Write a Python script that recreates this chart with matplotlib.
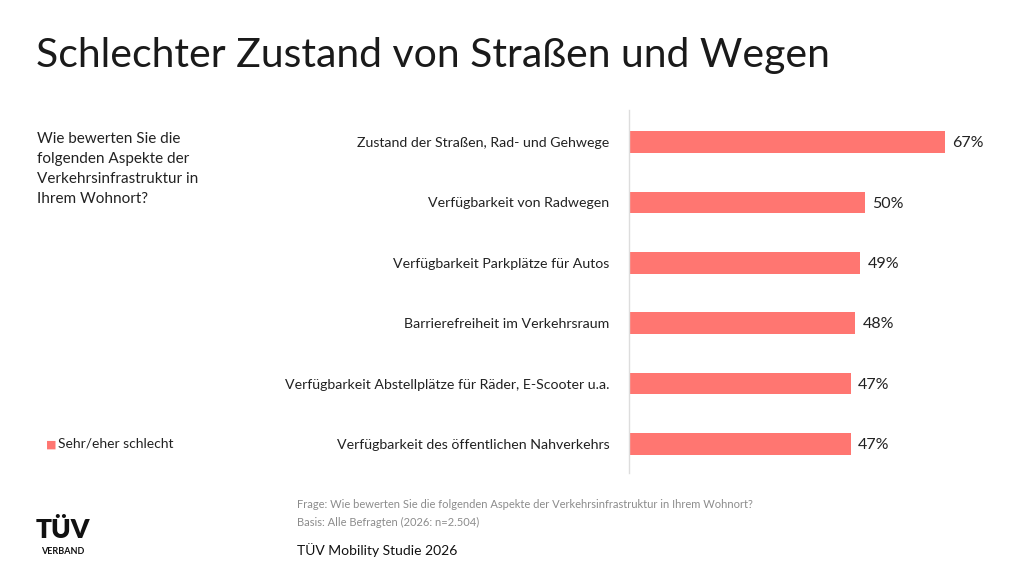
import matplotlib.pyplot as plt

# Daten
kategorien = [
    "Zustand der Straßen, Rad- und Gehwege",
    "Verfügbarkeit von Radwegen",
    "Verfügbarkeit Parkplätze für Autos",
    "Barrierefreiheit im Verkehrsraum",
    "Verfügbarkeit Abstellplätze für Räder, E-Scooter u.a.",
    "Verfügbarkeit des öffentlichen Nahverkehrs",
]
werte = [67, 50, 49, 48, 47, 47]
serie = "Sehr/eher schlecht"
farbe = "#FF7671"

plt.rcParams['font.family'] = ['Lato', 'DejaVu Sans']

fig = plt.figure(figsize=(10.24, 5.85), dpi=100)
W, H = 1024, 585

# Achse: x ab 629 px, y von 110 bis 473 px
ax = fig.add_axes([629 / W, 1 - 473 / H, (1010 - 629) / W, 363 / H])
pos = list(range(len(kategorien)))
ax.barh(pos, werte, height=0.36, color=farbe)
ax.set_xlim(0, (1010 - 629) / 4.716)
ax.set_ylim(5.48, -0.53)
for p, v in zip(pos, werte):
    ax.text(v + 1.6, p + 0.02, f"{v}%", va='center', ha='left', fontsize=11.5, color='#222222')
ax.set_yticks(pos)
ax.set_yticklabels(kategorien, fontsize=10.2, color='#222222')
ax.tick_params(axis='y', length=0, pad=14)
ax.set_xticks([])
for s in ['top', 'right', 'bottom']:
    ax.spines[s].set_visible(False)
ax.spines['left'].set_color('#DDDDDD')
ax.spines['left'].set_linewidth(1)

# Titel
fig.text(36 / W, 1 - 56 / H, "Schlechter Zustand von Straßen und Wegen",
         fontsize=29.5, fontweight='normal', va='center', ha='left', color='#1A1A1A')

# Frage links
fig.text(37 / W, 1 - 132 / H,
         "Wie bewerten Sie die\nfolgenden Aspekte der\nVerkehrsinfrastruktur in\nIhrem Wohnort?",
         fontsize=11, va='top', ha='left', linespacing=1.55, color='#222222')

# Legende
fig.text(46 / W, 1 - 444 / H, "\u25A0", fontsize=8, color=farbe, va='center', ha='left')
fig.text(58 / W, 1 - 444 / H, serie, fontsize=10, va='center', ha='left', color='#222222')

# Fußnoten
fig.text(297 / W, 1 - 505 / H,
         "Frage: Wie bewerten Sie die folgenden Aspekte der Verkehrsinfrastruktur in Ihrem Wohnort?",
         fontsize=8, color='#8C8C8C', va='center', ha='left')
fig.text(297 / W, 1 - 522 / H, "Basis: Alle Befragten (2026: n=2.504)",
         fontsize=8, color='#8C8C8C', va='center', ha='left')
fig.text(297 / W, 1 - 550 / H, "TÜV Mobility Studie 2026",
         fontsize=10, color='#111111', va='center', ha='left')

# Logo
fig.text(63 / W, 1 - 530 / H, "TÜV", fontsize=19, fontweight='heavy',
         va='center', ha='center', color='#111111')
fig.text(63 / W, 1 - 552 / H, "VERBAND", fontsize=6.5, fontweight='bold',
         va='center', ha='center', color='#111111')

fig.savefig("out.png", dpi=100)
